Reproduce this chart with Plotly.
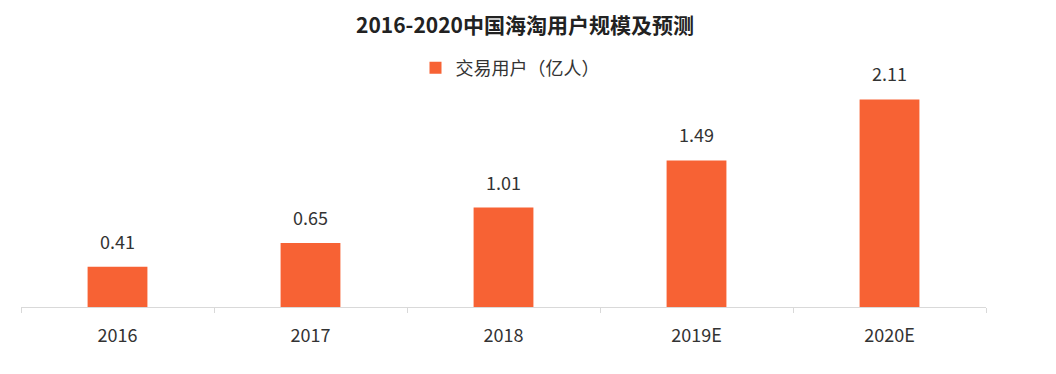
import plotly.graph_objects as go

years = ["2016", "2017", "2018", "2019E", "2020E"]
users = [0.41, 0.65, 1.01, 1.49, 2.11]
labels = ["0.41", "0.65", "1.01", "1.49", "2.11"]

font = "Noto Sans CJK SC"

# page has an 8px body margin; figure coordinates = page coordinates - 8
OFF = 8
T, B, L, R = 61 - OFF, 374 - (307 - OFF), 21 - OFF, 1056 - (986 - OFF)
H = 374 - T - B
W = 1056 - L - R

fig = go.Figure()
fig.add_trace(go.Bar(
    x=years, y=users, name="交易用户（亿人）",
    marker=dict(color="#F76234", line=dict(width=0)),
    width=0.31,
))
for i, (v, lab) in enumerate(zip(users, labels)):
    fig.add_annotation(x=i, y=v, text=lab, showarrow=False, yanchor="bottom",
                       yshift=11, font=dict(size=18, color="#333333", family=font))
fig.update_layout(
    width=1056, height=374,
    margin=dict(l=L, r=R, t=T, b=B, autoexpand=False),
    paper_bgcolor="white", plot_bgcolor="white",
    title=dict(text="<b>2016-2020中国海淘用户规模及预测</b>", x=(525 - OFF) / 1056, xanchor="center",
               y=1 - (26 - OFF) / 374, yanchor="middle",
               font=dict(size=21, color="#222222", family=font)),
    showlegend=True,
    legend=dict(orientation="h", x=(510 - 21) / W, xanchor="center", xref="paper",
                y=(307 - 68) / H, yref="paper", yanchor="middle",
                font=dict(size=18, color="#333333", family=font), itemwidth=30,
                bgcolor="rgba(0,0,0,0)"),
    font=dict(family=font),
)
fig.update_xaxes(
    type="category", categoryorder="array", categoryarray=years,
    showline=True, linecolor="#d9d9d9", linewidth=1,
    ticks="outside", tickson="boundaries", ticklen=5, tickcolor="#d9d9d9",
    ticklabelstandoff=12, tickangle=0,
    tickfont=dict(size=18, color="#333333", family=font),
    showgrid=False,
)
fig.update_yaxes(range=[0, 2.5], visible=False, showgrid=False, zeroline=False)
fig.write_html("out.html")
